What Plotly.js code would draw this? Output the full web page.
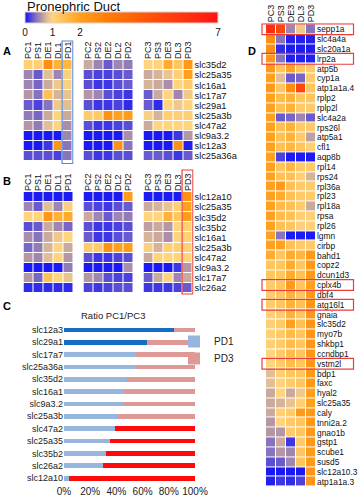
<!DOCTYPE html>
<html>
<head>
<meta charset="utf-8">
<script src="https://cdn.plot.ly/plotly-3.0.1.min.js"></script>
<style>html,body{margin:0;padding:0;background:#fff;}#chart{width:363px;height:500px;}</style>
</head>
<body>
<div id="chart"></div>
<script>
// ---------- DATA ----------
const cols1 = ['PC1','PS1','DE1','DL1','PD1'];
const cols2 = ['PC2','PS2','DE2','DL2','PD2'];
const cols3 = ['PC3','PS3','DE3','DL3','PD3'];

const genesA = ['slc35d2','slc25a35','slc16a1','slc17a7','slc29a1','slc25a3b','slc47a2','slc9a3.2','slc12a3','slc25a36a'];
const zA1 = [
  [1.1,1.1,2.5,1.7,1.6],
  [0.5,0.3,0.8,0.5,0.95],
  [0.5,0.35,0.7,0.9,0.95],
  [0.6,0.4,1.4,0.75,0.85],
  [0.3,0.2,0.4,0.9,0.8],
  [0.45,0.35,0.7,1.0,0.7],
  [0.6,0.45,0.8,1.0,0.55],
  [0.02,0.02,0.02,0.02,0.5],
  [0.02,0.02,0.15,2.3,0.4],
  [0.25,0.25,0.25,0.2,0.4]
];
const zA2 = [
  [0.7,0.5,0.3,0.5,0.45],
  [0.25,0.2,0.2,0.25,0.3],
  [0.25,0.15,0.15,0.25,0.3],
  [0.6,0.5,0.25,0.2,0.15],
  [0.25,0.15,0.15,0.2,0.1],
  [1.2,1.2,2.4,2.0,2.1],
  [0.25,0.15,0.15,0.2,0.25],
  [0.02,0.02,0.02,0.02,0.55],
  [0.02,0.02,0.02,2.4,0.4],
  [0.25,0.15,0.15,0.25,0.25]
];
const zA3 = [
  [1.0,1.0,1.8,1.3,2.2],
  [0.7,0.75,0.85,1.1,2.0],
  [0.75,0.7,0.55,1.0,1.2],
  [0.3,0.7,1.0,0.5,0.9],
  [0.3,0.1,1.0,0.9,1.0],
  [0.95,0.75,1.1,1.1,1.1],
  [0.7,1.0,1.0,1.0,1.0],
  [0.02,0.02,0.02,0.15,0.6],
  [0.02,0.02,0.02,2.4,0.05],
  [0.3,0.3,0.25,0.15,0.3]
];

const genesB = ['slc12a10','slc25a35','slc35d2','slc35b2','slc16a1','slc25a3b','slc47a2','slc9a3.2','slc17a7','slc26a2'];
const zB1 = [
  [0.03,0.03,0.03,0.03,0.03],
  [0.5,0.3,0.8,0.5,0.95],
  [1.0,1.0,2.3,1.7,1.8],
  [0.25,0.3,0.7,0.5,0.35],
  [0.55,0.4,0.7,0.9,1.0],
  [0.35,0.45,0.75,1.0,0.7],
  [0.6,0.5,0.8,1.0,0.6],
  [0.02,0.02,0.02,0.02,0.45],
  [0.6,0.35,1.4,1.0,0.85],
  [0.1,0.1,0.1,0.1,0.1]
];
const zB2 = [
  [0.03,0.03,0.03,0.03,2.1],
  [0.25,0.2,0.15,0.25,0.3],
  [0.7,0.5,0.3,0.5,0.45],
  [0.25,0.15,0.15,0.2,0.25],
  [0.3,0.15,0.15,0.25,0.3],
  [1.2,1.2,2.4,2.0,2.1],
  [0.25,0.15,0.15,0.2,0.25],
  [0.02,0.02,0.02,0.02,0.55],
  [0.6,0.5,0.25,0.2,0.2],
  [0.2,0.15,0.2,0.25,0.25]
];
const zB3 = [
  [0.03,0.03,0.03,0.03,2.4],
  [0.7,0.75,0.85,1.1,2.0],
  [1.0,1.0,1.7,1.3,2.1],
  [0.65,0.7,0.6,1.0,1.1],
  [0.75,0.7,0.55,1.0,1.1],
  [0.95,0.75,1.1,1.1,1.1],
  [0.7,1.0,1.0,1.0,1.0],
  [0.02,0.02,0.02,0.15,0.6],
  [0.3,0.7,1.0,0.5,0.7],
  [0.15,0.15,0.15,0.2,0.3]
];

const genesD = ['sepp1a','slc4a4a','slc20a1a','lrp2a','atp5b','cyp1a','atp1a1a.4','rplp2','rplp2l','slc4a2a',
  'rps26l','atp5a1','cfl1','aqp8b','rpl14','rps24','rpl36a','rpl23','rpl18a','rpsa','rpl26','lgmn','cirbp',
  'bahd1','copz2','dcun1d3','cplx4b','dbf4','atg16l1','gnaia','slc35d2','myo7b','shkbp1','ccndbp1','vstm2l',
  'bdp1','faxc','hyal2','slc25a35','caly','tnni2a.2','gnao1b','gstp1','scube1','susd5','slc12a10.3','atp1a1a.3'];
const zD = [
  [6.0,5.0,0.5,0.9,0.4],
  [2.5,0.4,0.05,0.05,0.05],
  [2.5,0.1,0.03,0.03,0.03],
  [2.3,0.4,0.05,0.05,0.05],
  [2.2,1.3,2.0,1.3,1.2],
  [2.0,0.8,0.3,0.35,1.2],
  [2.2,1.3,2.6,5.0,1.3],
  [2.0,1.5,1.7,1.3,1.3],
  [2.0,1.4,1.7,1.2,1.2],
  [2.0,0.3,0.35,0.5,0.3],
  [2.0,1.4,1.7,1.2,1.2],
  [2.0,1.4,1.7,1.2,0.65],
  [2.0,1.4,1.6,1.3,1.1],
  [2.0,0.2,0.03,0.03,0.03],
  [2.0,1.3,1.6,1.2,1.2],
  [2.0,1.4,1.4,1.1,0.75],
  [2.0,2.2,1.4,1.2,1.2],
  [2.0,1.8,1.4,1.2,1.2],
  [2.0,1.5,1.4,1.2,0.7],
  [2.0,1.5,1.4,1.1,1.1],
  [2.0,1.4,1.3,0.95,1.1],
  [2.0,0.4,0.03,0.03,0.03],
  [2.0,2.0,1.4,1.2,1.2],
  [1.8,1.3,1.8,1.6,2.2],
  [1.3,1.3,1.8,1.3,2.2],
  [1.3,1.3,1.8,1.4,2.2],
  [1.2,1.3,2.2,1.3,2.0],
  [1.2,1.3,1.7,1.3,2.2],
  [1.2,1.3,1.7,1.4,2.3],
  [1.1,1.2,1.7,1.3,2.3],
  [1.1,1.2,2.0,1.4,2.3],
  [1.1,1.2,1.5,1.3,2.3],
  [1.1,1.2,1.5,1.3,2.3],
  [1.0,1.2,1.5,1.3,2.3],
  [1.0,1.2,1.5,1.3,2.3],
  [0.8,1.1,1.3,1.3,2.2],
  [0.8,1.0,1.2,1.3,2.2],
  [0.7,1.0,0.7,0.9,2.0],
  [0.7,0.75,0.85,1.1,2.0],
  [0.7,1.1,1.2,2.2,2.2],
  [0.6,1.0,1.2,1.3,2.2],
  [0.6,0.6,1.2,1.3,2.2],
  [0.4,0.7,0.15,1.2,2.2],
  [0.4,0.6,0.5,1.3,2.2],
  [0.25,0.3,0.5,1.3,2.2],
  [0.02,0.02,0.02,0.02,2.3],
  [0.05,0.15,0.1,0.2,2.3]
];
const boxedD = ['sepp1a','lrp2a','cplx4b','atg16l1','vstm2l'];

const genesC = ['slc12a3','slc29a1','slc17a7','slc25a36a','slc35d2','slc16a1','slc9a3.2','slc25a3b','slc47a2','slc25a35','slc35b2','slc26a2','slc12a10'];
const pd1 = [84,63,55,55,48,46,45,41,39,35,32,30,4];
const pd3 = [16,37,45,45,52,54,55,59,61,65,68,70,96];
const cbTicks = [0,1,2,7];
const pctTicks = [0,20,40,60,80,100];

// ---------- STYLE ----------
const W = 363, H = 500;
const px = v => v / W;
const py = v => 1 - v / H;
const FONT = 'Arial, "Liberation Sans", sans-serif';

const valueStops = [
  [0, 'rgb(20,20,245)'],
  [0.2, 'rgb(75,65,220)'],
  [0.4, 'rgb(135,115,190)'],
  [0.6, 'rgb(180,150,165)'],
  [0.8, 'rgb(225,190,150)'],
  [1.0, 'rgb(255,212,125)'],
  [1.5, 'rgb(255,188,75)'],
  [2.0, 'rgb(255,160,30)'],
  [3.0, 'rgb(255,125,5)'],
  [5.0, 'rgb(255,70,10)'],
  [7.0, 'rgb(255,20,20)']
];
const colorscale = valueStops.map(s => [s[0] / 7, s[1]]);

const g1 = [px(23.5), px(73.5)], g2 = [px(83.5), px(133.5)], g3 = [px(143.5), px(193.5)];
const domA = [py(161), py(60)], domB = [py(293), py(192)];

function hm(x, y, z, xa, ya) {
  return {type: 'heatmap', x: x, y: y, z: z, xaxis: xa, yaxis: ya, coloraxis: 'coloraxis',
          xgap: 1, ygap: 1, hoverinfo: 'skip', showlegend: false};
}
const traces = [
  hm(cols1, genesA, zA1, 'x', 'y'),
  hm(cols2, genesA, zA2, 'x2', 'y'),
  hm(cols3, genesA, zA3, 'x3', 'y'),
  hm(cols1, genesB, zB1, 'x4', 'y2'),
  hm(cols2, genesB, zB2, 'x5', 'y2'),
  hm(cols3, genesB, zB3, 'x6', 'y2'),
  hm(cols3, genesD, zD, 'x7', 'y3')
];

// Stacked bars: PD1 then PD3; strong shades where a side exceeds 60 %
const C_PD1 = 'rgb(150,182,222)', C_PD1_HI = 'rgb(20,110,195)';
const C_PD3 = 'rgb(222,152,150)', C_PD3_HI = 'rgb(255,10,10)';
const pd1Lo = pd1.map(v => v >= 60 ? 0 : v), pd1Hi = pd1.map(v => v >= 60 ? v : 0);
const pd3Lo = pd3.map(v => v > 60 ? 0 : v), pd3Hi = pd3.map(v => v > 60 ? v : 0);
function bar(x, color, name, leg, legendId) {
  return {type: 'bar', orientation: 'h', y: genesC, x: x, xaxis: 'x8', yaxis: 'y4', name: name,
          marker: {color: color, line: {width: 0}}, showlegend: leg, legend: legendId,
          hoverinfo: 'skip', legendgroup: name};
}
traces.push(bar(pd1Lo, C_PD1, 'PD1', true, 'legend'));
traces.push(bar(pd1Hi, C_PD1_HI, 'PD1', false, 'legend'));
traces.push(bar(pd3Lo, C_PD3, 'PD3', true, 'legend2'));
traces.push(bar(pd3Hi, C_PD3_HI, 'PD3', false, 'legend2'));

function colAxis(dom, anchor, cats) {
  return {domain: dom, anchor: anchor, side: 'top', tickangle: -90, ticks: '', showgrid: false,
          zeroline: false, showline: false, tickmode: 'array', tickvals: cats, ticktext: cats,
          tickfont: {size: 9, color: '#111'}, fixedrange: true};
}
function rowAxis(dom, anchor, size, cats) {
  return {domain: dom, anchor: anchor, side: 'right', autorange: 'reversed', ticks: '', showgrid: false,
          zeroline: false, showline: false, tickmode: 'array', tickvals: cats, ticktext: cats,
          tickfont: {size: size, color: '#111'}, fixedrange: true};
}

const shapes = [
  {type: 'rect', xref: 'x', yref: 'paper', x0: 3.42, x1: 4.52, y0: py(163.5), y1: py(41),
   line: {color: 'rgb(80,135,215)', width: 1.2}},
  {type: 'rect', xref: 'x6', yref: 'paper', x0: 3.42, x1: 4.52, y0: py(294), y1: py(170),
   line: {color: 'rgb(235,60,60)', width: 1.2}}
];
boxedD.forEach(g => {
  const i = genesD.indexOf(g);
  shapes.push({type: 'rect', xref: 'paper', yref: 'y3', x0: px(262), x1: px(353.5), y0: i - 0.55, y1: i + 0.55,
    line: {color: 'rgb(235,60,60)', width: 1.2}});
});

function letter(t, x, y) {
  return {text: '<b>' + t + '</b>', x: px(x), y: py(y), xref: 'paper', yref: 'paper', showarrow: false,
          xanchor: 'left', yanchor: 'middle', font: {size: 11, color: '#000'}};
}
function legendBox(top) {
  return {x: px(174), y: py(top), xanchor: 'left', yanchor: 'top', font: {size: 10, color: '#222'},
          bgcolor: 'rgba(0,0,0,0)', traceorder: 'normal', tracegroupgap: 0, borderwidth: 0};
}

const layout = {
  width: W, height: H,
  margin: {l: 0, r: 0, t: 0, b: 0},
  paper_bgcolor: '#fff', plot_bgcolor: '#fff',
  font: {family: FONT, color: '#111'},
  barmode: 'stack', bargap: 0.6,
  showlegend: true,
  legend: legendBox(327),
  legend2: legendBox(344),
  coloraxis: {cmin: 0, cmax: 7, colorscale: colorscale,
    colorbar: {orientation: 'h', x: px(25), xanchor: 'left', y: py(12.3), yanchor: 'top',
      len: 193, lenmode: 'pixels', thickness: 11, thicknessmode: 'pixels', xpad: 0, ypad: 0,
      tickvals: cbTicks, ticks: '', tickfont: {size: 10, color: '#111'},
      outlinewidth: 1, outlinecolor: '#e0d0d0', title: {text: ''}}},
  xaxis: colAxis(g1, 'y', cols1), xaxis2: colAxis(g2, 'y', cols2), xaxis3: colAxis(g3, 'y', cols3),
  yaxis: rowAxis(domA, 'x3', 9.3, genesA),
  xaxis4: colAxis(g1, 'y2', cols1), xaxis5: colAxis(g2, 'y2', cols2), xaxis6: colAxis(g3, 'y2', cols3),
  yaxis2: rowAxis(domB, 'x6', 9.3, genesB),
  xaxis7: colAxis([px(266), px(316)], 'y3', cols3),
  yaxis3: rowAxis([py(486.7), py(23.3)], 'x7', 8.4, genesD),
  xaxis8: {domain: [px(64), px(195)], anchor: 'y4', range: [0, 100], tickmode: 'array', tickvals: pctTicks,
           ticktext: pctTicks.map(v => v + '%'),
           ticks: '', showgrid: false, zeroline: false, showline: false, tickfont: {size: 10, color: '#222'}, fixedrange: true},
  yaxis4: {domain: [py(484.2), py(323.8)], anchor: 'x8', autorange: 'reversed', ticks: '', showgrid: false,
           tickmode: 'array', tickvals: genesC, ticktext: genesC,
           zeroline: false, showline: false, tickfont: {size: 9, color: '#222'}, fixedrange: true},
  shapes: shapes,
  annotations: [
    {text: 'Pronephric Duct', x: px(25), y: py(6.5), xref: 'paper', yref: 'paper', showarrow: false,
     xanchor: 'left', yanchor: 'middle', font: {size: 13, color: '#111'}},
    {text: 'Ratio PC1/PC3', x: px(113), y: py(315), xref: 'paper', yref: 'paper', showarrow: false,
     xanchor: 'center', yanchor: 'middle', font: {size: 9.5, color: '#222'}},
    letter('A', 1, 51), letter('B', 1, 181), letter('C', 1, 306), letter('D', 246, 51)
  ]
};

Plotly.newPlot('chart', traces, layout, {displayModeBar: false, staticPlot: true});
</script>
</body>
</html>
